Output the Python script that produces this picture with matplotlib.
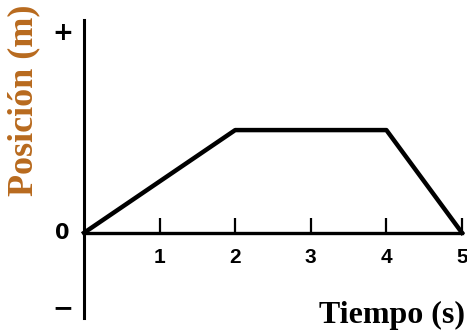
import matplotlib.pyplot as plt

tiempo = [0, 2, 4, 5]
posicion = [0, 1, 1, 0]
xticks = [1, 2, 3, 4, 5]
ytick_pos = [1.94, 0, -0.73]
ytick_labels = ["+", "0", "\u2212"]
ytick_sizes = [18, 15, 18]

fig = plt.figure(figsize=(4.67, 3.30), dpi=100)
ax = fig.add_axes([84 / 467, 0.036, 378 / 467, 0.903])

ax.plot(tiempo, posicion, color="black", lw=3.2, solid_joinstyle="round", clip_on=False, zorder=3)

ax.set_xlim(0, 5)
ax.set_ylim(-0.83, 2.07)

ax.spines["top"].set_visible(False)
ax.spines["right"].set_visible(False)
ax.spines["left"].set_linewidth(2.2)
ax.spines["bottom"].set_linewidth(2.4)
ax.spines["bottom"].set_position(("data", 0))

ax.set_xticks(xticks)
ax.set_xticklabels([str(t) for t in xticks], fontfamily="Liberation Sans", fontweight="bold", fontsize=15)
ax.tick_params(axis="x", direction="in", length=11, width=1.6, pad=11)

# y labels: just +, 0 and minus next to the axis
ax.set_yticks([])
for yv, lab, fs in zip(ytick_pos, ytick_labels, ytick_sizes):
    ax.text(-0.057, yv, lab, transform=ax.get_yaxis_transform(), ha="center", va="center",
            fontfamily="DejaVu Sans", fontweight="bold", fontsize=fs)

fig.text(0.05, 0.985, "Posición (m)", rotation=90, ha="center", va="top",
         fontfamily="Liberation Serif", fontweight="bold", fontsize=26, color="#B86A1E")
fig.text(0.995, 0.0, "Tiempo (s)", ha="right", va="bottom",
         fontfamily="Liberation Serif", fontweight="bold", fontsize=23, color="black")

fig.savefig("out.png", dpi=100)
